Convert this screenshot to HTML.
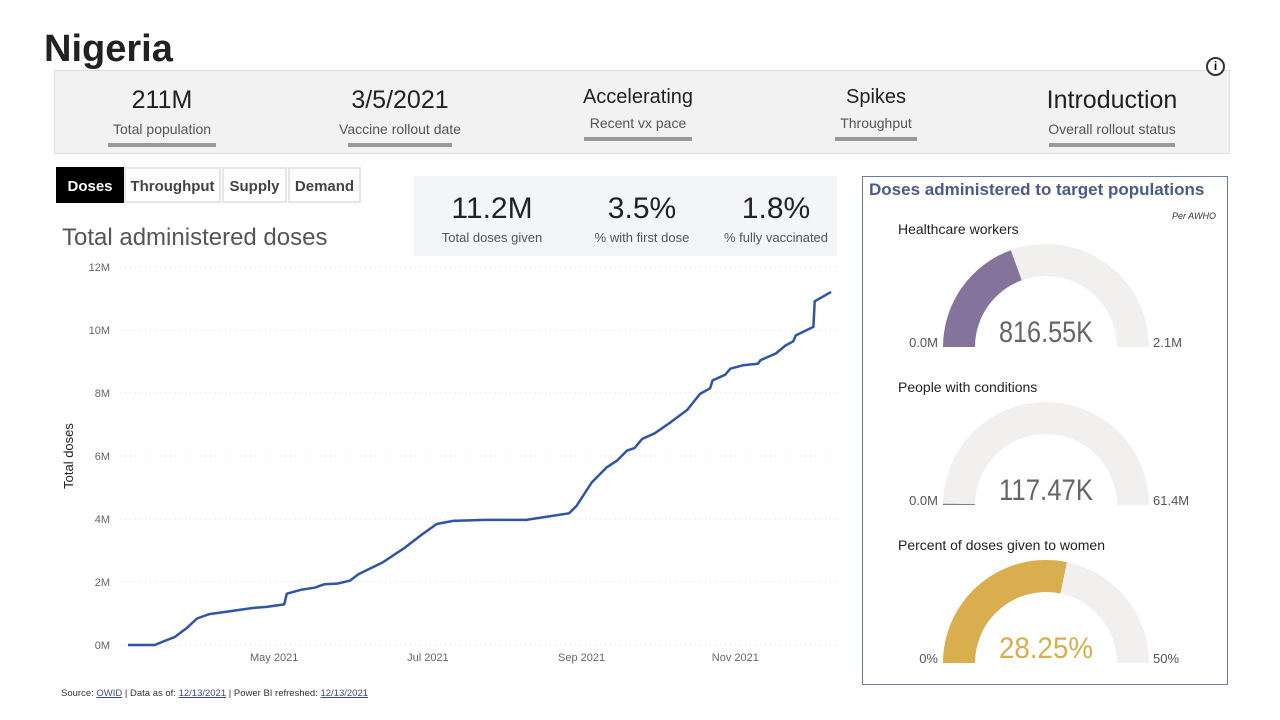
<!DOCTYPE html>
<html><head><meta charset="utf-8"><style>
body{margin:0;width:1280px;height:720px;background:#fff;font-family:"Liberation Sans",sans-serif;position:relative;overflow:hidden}
.a{position:absolute}
.kpi{position:absolute;text-align:center}
.kv{font-size:25px;color:#222}
.kl{font-size:14px;color:#555;margin-top:6px}
.ul{height:4px;background:#999;margin:6px auto 0}
.tab{position:absolute;top:167px;height:36px;line-height:36px;font-size:15px;font-weight:bold;color:#444;background:#fff;border:2px solid #e6e6e6;box-sizing:border-box;text-align:center}
</style></head><body>
<div class="a" style="left:44px;top:28px;font-size:38px;font-weight:bold;color:#222">Nigeria</div>
<div class="a" style="left:54px;top:70px;width:1174px;height:82px;background:#f2f2f2;border:1px solid #ddd"></div>
<div class="a" style="left:1206px;top:57px;width:15px;height:15px;border:2px solid #333;border-radius:50%;font-size:12px;line-height:15px;text-align:center;font-weight:bold;background:#fff;z-index:2">i</div>
<div class="kpi" style="left:92px;top:86px;width:140px"><div class="kv">211M</div><div class="kl">Total population</div><div class="ul" style="width:108px"></div></div>
<div class="kpi" style="left:320px;top:86px;width:160px"><div class="kv">3/5/2021</div><div class="kl">Vaccine rollout date</div><div class="ul" style="width:104px"></div></div>
<div class="kpi" style="left:558px;top:86px;width:160px"><div class="kv" style="font-size:20px">Accelerating</div><div class="kl">Recent vx pace</div><div class="ul" style="width:108px"></div></div>
<div class="kpi" style="left:806px;top:86px;width:140px"><div class="kv" style="font-size:20px">Spikes</div><div class="kl">Throughput</div><div class="ul" style="width:82px"></div></div>
<div class="kpi" style="left:1027px;top:86px;width:170px"><div class="kv">Introduction</div><div class="kl">Overall rollout status</div><div class="ul" style="width:126px"></div></div>

<div class="tab" style="left:56px;width:68px;background:#000;color:#fff;border-color:#000">Doses</div>
<div class="tab" style="left:124px;width:97px">Throughput</div>
<div class="tab" style="left:222px;width:65px">Supply</div>
<div class="tab" style="left:288px;width:73px">Demand</div>

<div class="a" style="left:62px;top:224px;font-size:24px;color:#555">Total administered doses</div>

<div class="a" style="left:414px;top:176px;width:423px;height:80px;background:#f3f5f9"></div>
<div class="kpi" style="left:422px;top:192px;width:140px"><div class="kv" style="font-size:30px">11.2M</div><div class="kl" style="font-size:13px;margin-top:4px">Total doses given</div></div>
<div class="kpi" style="left:572px;top:192px;width:140px"><div class="kv" style="font-size:30px">3.5%</div><div class="kl" style="font-size:13px;margin-top:4px">% with first dose</div></div>
<div class="kpi" style="left:706px;top:192px;width:140px"><div class="kv" style="font-size:30px">1.8%</div><div class="kl" style="font-size:13px;margin-top:4px">% fully vaccinated</div></div>

<svg class="a" style="left:0;top:0" width="1280" height="720" id="chart"></svg>

<div class="a" style="left:862px;top:176px;width:366px;height:509px;border:1px solid #6b7aa6;box-sizing:border-box"></div>
<div class="a" style="left:869px;top:180px;font-size:17px;font-weight:bold;color:#4a5a8a">Doses administered to target populations</div>
<div class="a" style="left:1172px;top:211px;font-size:9px;font-style:italic;color:#333">Per AWHO</div>
<svg class="a" style="left:0;top:0" width="1280" height="720" id="gauges"></svg>

<div class="a" style="left:61px;top:688px;font-size:9.5px;color:#333">Source: <u style="color:#3a4a8a">OWID</u> | Data as of: <u style="color:#3a4a8a">12/13/2021</u> | Power BI refreshed: <u style="color:#3a4a8a">12/13/2021</u></div>

<script>
const NS='http://www.w3.org/2000/svg';
const days=[0,10.6,13.6,18.5,23.5,27.4,32.3,41.2,49,55,62,63,69,74,78,83,88,91.5,101,110,116,122.5,129,142,158,164.5,175,178,184,190,194,198,201,204,209,215,222,227,231,232,237,239,244,250,251,257,261,264,265,272,272.5,279];
const doses=[0,0,0.1,0.25,0.55,0.84,0.98,1.08,1.17,1.21,1.29,1.63,1.76,1.82,1.93,1.95,2.04,2.25,2.62,3.10,3.47,3.84,3.94,3.97,3.97,4.05,4.18,4.42,5.16,5.64,5.85,6.17,6.25,6.54,6.72,7.05,7.47,7.97,8.15,8.40,8.58,8.77,8.88,8.93,9.04,9.25,9.51,9.64,9.83,10.1,10.91,11.21];
const yTicks=[0,2,4,6,8,10,12];
const xTickLabels=['May 2021','Jul 2021','Sep 2021','Nov 2021'];
const xTickDays=[58,119,180,241];
function X(d){return 128+d*2.52;}
function Y(m){return 645-m*31.5;}
const svg=document.getElementById('chart');
function mk(t,a,p){const e=document.createElementNS(NS,t);for(const k in a)e.setAttribute(k,a[k]);(p||svg).appendChild(e);return e;}
yTicks.forEach(v=>{
  const g=mk('line',{x1:120,x2:836,y1:Y(v),y2:Y(v),stroke:'#ddd','stroke-dasharray':'1,4'});
  
  
  const t=mk('text',{x:110,y:Y(v)+4,'text-anchor':'end','font-size':11,fill:'#666','font-family':'Liberation Sans'});
  t.textContent=v+'M';
  
  
});
xTickLabels.forEach((l,i)=>{
  const t=mk('text',{x:X(xTickDays[i]),y:661,'text-anchor':'middle','font-size':11,fill:'#666','font-family':'Liberation Sans'});
  t.textContent=l;
  
  
});
const yt=mk('text',{transform:'translate(73,456) rotate(-90)','text-anchor':'middle','font-size':13,fill:'#222','font-family':'Liberation Sans'});
yt.textContent='Total doses';


const path=mk('path',{d:days.map((d,i)=>(i?'L':'M')+X(d).toFixed(1)+','+Y(doses[i]).toFixed(1)).join(''),fill:'none',stroke:'#2f55a4','stroke-width':2.5,'stroke-linejoin':'round'});



// gauges
const gTitles=['Healthcare workers','People with conditions','Percent of doses given to women'];
const gValues=[816.55,117.47,28.25];
const gMax=[2100,61400,50];
const gValueLabels=['816.55K','117.47K','28.25%'];
const gMinLabels=['0.0M','0.0M','0%'];
const gMaxLabels=['2.1M','61.4M','50%'];
const gColors=['#86739b','#86739b','#d9ae4e'];
const gs=document.getElementById('gauges');
const cx=1046,ro=103,ri=71,bottoms=[347,505,663];
function arc(cy,f0,f1){
  const a0=Math.PI*(1-f0),a1=Math.PI*(1-f1);
  const p=(r,a)=>(cx+r*Math.cos(a)).toFixed(1)+','+(cy-r*Math.sin(a)).toFixed(1);
  return 'M'+p(ro,a0)+'A'+ro+','+ro+' 0 0 1 '+p(ro,a1)+'L'+p(ri,a1)+'A'+ri+','+ri+' 0 0 0 '+p(ri,a0)+'Z';
}
gTitles.forEach((tt,i)=>{
  const cy=bottoms[i];
  const t=mk('text',{x:898,y:cy-113,'font-size':14,fill:'#222','font-family':'Liberation Sans'},gs);t.textContent=tt;
  
  
  const bg=mk('path',{d:arc(cy,0,1),fill:'#f1f0ef'},gs);
  
  
  const f=Math.max(0.004,gValues[i]/gMax[i]);
  const fg=mk('path',{d:arc(cy,0,f),fill:gColors[i]},gs);
  
  
  const v=mk('text',{x:cx,y:cy-5,'text-anchor':'middle','font-size':30,fill:i==2?'#d9ae4e':'#666','font-family':'Liberation Sans','textLength':94,'lengthAdjust':'spacingAndGlyphs'},gs);v.textContent=gValueLabels[i];
  
  
  const mn=mk('text',{x:938,y:cy,'text-anchor':'end','font-size':13,fill:'#555','font-family':'Liberation Sans'},gs);mn.textContent=gMinLabels[i];
  
  
  const mx=mk('text',{x:1153,y:cy,'font-size':13,fill:'#555','font-family':'Liberation Sans'},gs);mx.textContent=gMaxLabels[i];
  
  
});
</script>
</body></html>
